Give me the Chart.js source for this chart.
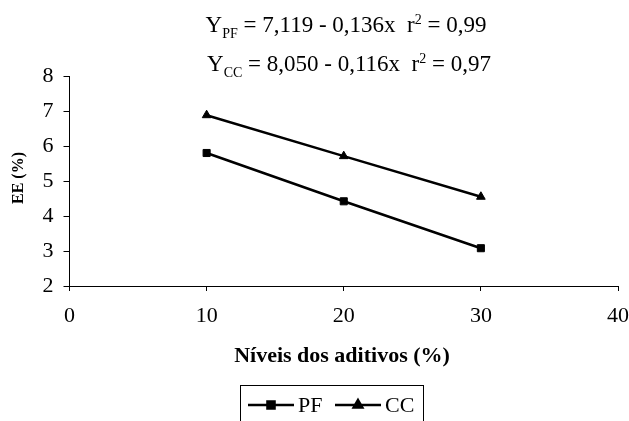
<!DOCTYPE html>
<html>
<head>
<meta charset="utf-8">
<script src="https://cdn.jsdelivr.net/npm/chart.js@4.4.1/dist/chart.umd.min.js"></script>
<style>
  html, body { margin: 0; padding: 0; background: #fff; }
  #wrap { width: 629px; height: 421px; position: relative; }
</style>
</head>
<body>
<div id="wrap"><canvas id="ee-plot"></canvas></div>
<script>
// EE (%) against additive level, two additives
var niveis = [10, 20, 30];
var eePF = [5.8, 4.42, 3.08];
var eeCC = [6.88, 5.71, 4.55];
var xTicks = [0, 10, 20, 30, 40];
var yTicks = [2, 3, 4, 5, 6, 7, 8];
var seriesNames = ['PF', 'CC'];
var equations = [
  { sub: 'PF', text: ' = 7,119 - 0,136x  r', sup: '2', tail: ' = 0,99' },
  { sub: 'CC', text: ' = 8,050 - 0,116x  r', sup: '2', tail: ' = 0,97' }
];

var SERIF = '"Liberation Serif", "Times New Roman", serif';

function pts(ys) {
  return niveis.map(function (x, i) { return { x: x, y: ys[i] }; });
}

// one regression line of text, with subscript and superscript pieces
function drawEquation(ctx, eq, cx, baseline) {
  var big = '23px ' + SERIF, small = '14px ' + SERIF;
  var parts = [
    { t: 'Y', f: big, dy: 0 },
    { t: eq.sub, f: small, dy: 6 },
    { t: eq.text, f: big, dy: 0 },
    { t: eq.sup, f: small, dy: -8 },
    { t: eq.tail, f: big, dy: 0 }
  ];
  var total = 0;
  parts.forEach(function (p) { ctx.font = p.f; p.w = ctx.measureText(p.t).width; total += p.w; });
  var x = cx - total / 2;
  ctx.textAlign = 'left';
  ctx.textBaseline = 'alphabetic';
  parts.forEach(function (p) {
    ctx.font = p.f;
    ctx.fillText(p.t, x, baseline + p.dy);
    x += p.w;
  });
}

var textPlugin = {
  id: 'eeText',
  afterDraw: function (chart) {
    var ctx = chart.ctx;
    ctx.save();
    ctx.fillStyle = '#000';

    drawEquation(ctx, equations[0], 346, 32);
    drawEquation(ctx, equations[1], 349, 71);

    // axis titles
    ctx.font = 'bold 22px ' + SERIF;
    ctx.textAlign = 'center';
    ctx.textBaseline = 'middle';
    ctx.fillText('Níveis dos aditivos (%)', 342, 356);

    ctx.save();
    ctx.translate(19, 178);
    ctx.rotate(-Math.PI / 2);
    ctx.font = 'bold 16px ' + SERIF;
    ctx.fillText('EE (%)', 0, 0);
    ctx.restore();

    // legend box
    ctx.strokeStyle = '#000';
    ctx.lineWidth = 1;
    ctx.strokeRect(240.5, 385.5, 183, 50);

    var styles = ['rect', 'triangle'];
    var lx = [248, 335];
    ctx.font = '22px ' + SERIF;
    ctx.textAlign = 'left';
    ctx.textBaseline = 'middle';
    for (var i = 0; i < seriesNames.length; i++) {
      ctx.lineWidth = 2.5;
      ctx.beginPath();
      ctx.moveTo(lx[i], 405);
      ctx.lineTo(lx[i] + 46, 405);
      ctx.stroke();
      ctx.fillStyle = '#000';
      Chart.helpers.drawPoint(ctx, { pointStyle: styles[i], radius: 5, rotation: 0, borderWidth: 1 }, lx[i] + 23, 405);
      ctx.fillText(seriesNames[i], lx[i] + 50, 406);
    }
    ctx.restore();
  }
};

var tickFont = { family: SERIF, size: 22 };

new Chart(document.getElementById('ee-plot'), {
  type: 'scatter',
  data: {
    datasets: [
      {
        label: seriesNames[0],
        data: pts(eePF),
        showLine: true,
        borderColor: '#000',
        backgroundColor: '#000',
        borderWidth: 2.5,
        pointStyle: 'rect',
        pointRadius: 5,
        pointBorderWidth: 1
      },
      {
        label: seriesNames[1],
        data: pts(eeCC),
        showLine: true,
        borderColor: '#000',
        backgroundColor: '#000',
        borderWidth: 2.5,
        pointStyle: 'triangle',
        pointRadius: 5,
        pointBorderWidth: 1
      }
    ]
  },
  options: {
    responsive: true,
    maintainAspectRatio: false,
    animation: false,
    layout: { padding: { top: 76, right: 0, left: 0, bottom: 0 } },
    plugins: {
      legend: { display: false },
      tooltip: { enabled: false }
    },
    scales: {
      x: {
        type: 'linear',
        min: xTicks[0],
        max: xTicks[xTicks.length - 1],
        afterBuildTicks: function (s) { s.ticks = xTicks.map(function (v) { return { value: v }; }); },
        afterFit: function (s) { s.height = 135; s.paddingRight = 11; s.paddingLeft = 0; },
        border: { display: true, color: '#000', width: 1 },
        grid: { display: true, drawOnChartArea: false, drawTicks: true, tickLength: 5, color: '#000' },
        ticks: { color: '#000', font: tickFont, padding: 12, maxRotation: 0 }
      },
      y: {
        min: yTicks[0],
        max: yTicks[yTicks.length - 1],
        afterBuildTicks: function (s) { s.ticks = yTicks.map(function (v) { return { value: v }; }); },
        afterFit: function (s) { s.width = 69.5; },
        border: { display: true, color: '#000', width: 1 },
        grid: { display: true, drawOnChartArea: false, drawTicks: true, tickLength: 6, color: '#000' },
        ticks: { color: '#000', font: tickFont, padding: 10 }
      }
    }
  },
  plugins: [textPlugin]
});
</script>
</body>
</html>
